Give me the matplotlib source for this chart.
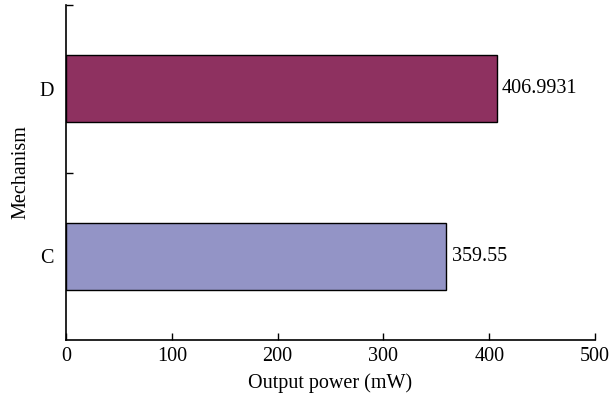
import matplotlib
matplotlib.use("Agg")
import matplotlib.pyplot as plt

plt.rcParams['font.family'] = ['Liberation Serif', 'DejaVu Serif']

# data
mechanisms = ['C', 'D']
output_power = [359.55, 406.9931]
value_labels = ['359.55', '406.9931']
bar_colors = ['#9394c6', '#8e3160']

fig = plt.figure(figsize=(6.11, 4.04), dpi=100)
ax = fig.add_axes([0.108, 0.158, 0.866, 0.830])

ypos = list(range(len(mechanisms)))
ax.barh(ypos, output_power, height=0.4, color=bar_colors,
        edgecolor='black', linewidth=1.0)

for y, v, lab in zip(ypos, output_power, value_labels):
    ax.text(v + 5, y, lab, va='center', ha='left', fontsize=14.5)

ax.set_xlim(0, 500)
ax.set_ylim(-0.5, 1.5)
ax.set_xticks(range(0, 501, 100))
ax.set_yticks(ypos)
ax.set_yticklabels(mechanisms)
ax.set_yticks([0.5, 1.5], minor=True)

ax.tick_params(axis='x', direction='in', length=5, width=1, labelsize=14.5, pad=5)
ax.tick_params(axis='y', which='major', length=0, labelsize=14.5, pad=9)
ax.tick_params(axis='y', which='minor', direction='in', length=5, width=1)

for s in ['top', 'right']:
    ax.spines[s].set_visible(False)
for s in ['left', 'bottom']:
    ax.spines[s].set_linewidth(1.2)

ax.set_xlabel('Output power (mW)', fontsize=14.5, labelpad=5)
ax.set_ylabel('Mechanism', fontsize=14.5, labelpad=6)

fig.savefig('out.png', dpi=100)
